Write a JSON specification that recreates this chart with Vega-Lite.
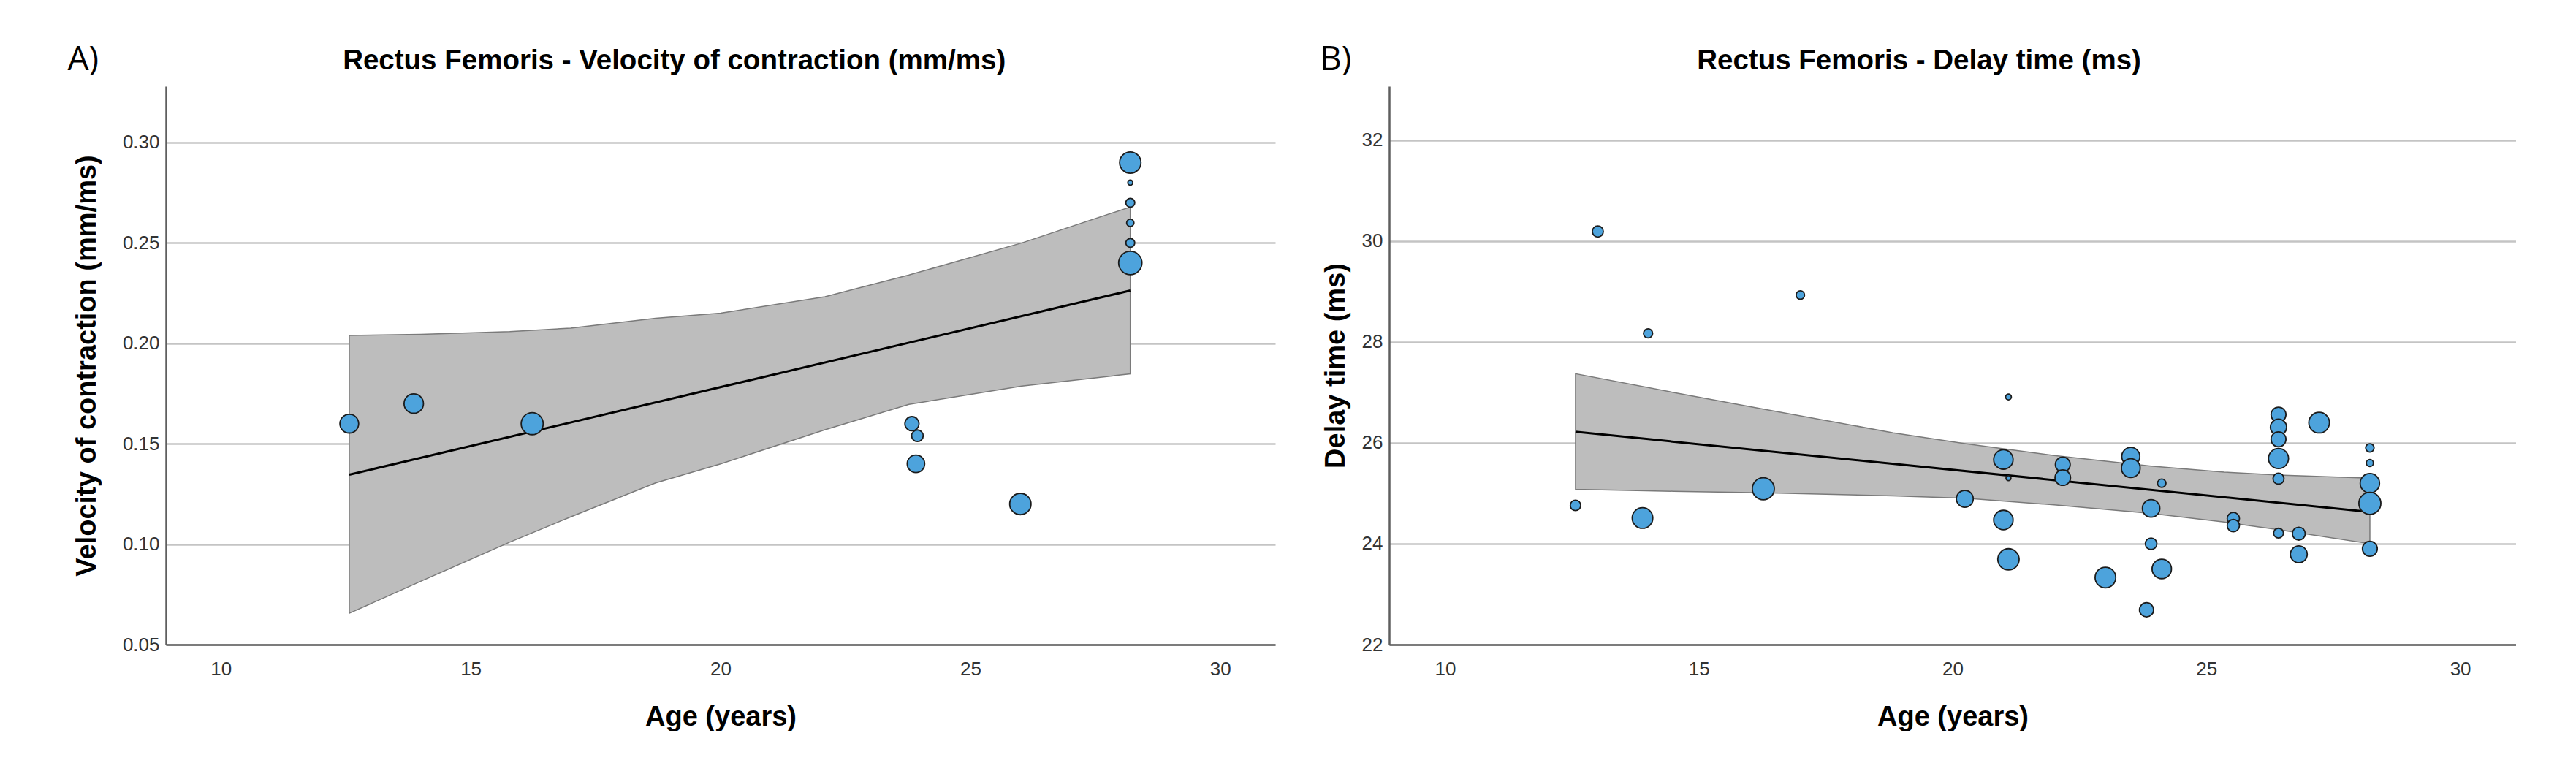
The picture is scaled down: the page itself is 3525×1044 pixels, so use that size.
{
  "$schema": "https://vega.github.io/schema/vega-lite/v6.json",
  "background": "white",
  "padding": {"left": 92, "top": 58, "right": 0, "bottom": 0},
  "spacing": 61,
  "config": {
    "font": "Liberation Sans",
    "view": {"stroke": null},
    "axis": {
      "domainColor": "#5f5f5f",
      "domainWidth": 2.5,
      "ticks": false,
      "gridColor": "#c4c4c4",
      "gridWidth": 2.5,
      "labelFont": "Liberation Sans",
      "labelFontSize": 26,
      "labelColor": "#333333",
      "titleFont": "Liberation Sans",
      "titleFontSize": 38,
      "titleFontWeight": "bold",
      "titleColor": "#000000"
    },
    "axisX": {"grid": false, "labelPadding": 20, "titlePadding": 34},
    "axisY": {"grid": true, "labelPadding": 9, "titlePadding": 16},
    "title": {"font": "Liberation Sans", "fontSize": 38.5, "fontWeight": "bold", "color": "#000000", "anchor": "middle", "frame": "bounds", "offset": 15}
  },
  "hconcat": [
    {
      "title": {"text": "A)", "anchor": "start", "frame": "bounds", "font": "Open Sans", "fontSize": 46, "fontWeight": "normal", "offset": 0, "dy": 42, "dx": -8},
      "vconcat": [
        {
          "width": 1518,
          "height": 764,
          "title": "Rectus Femoris - Velocity of contraction (mm/ms)",
          "encoding": {
            "x": {"field": "age", "type": "quantitative", "scale": {"domain": [8.9, 31.1], "nice": false, "zero": false}, "axis": {"values": [10, 15, 20, 25, 30], "title": "Age (years)"}},
            "y": {"field": "v", "type": "quantitative", "scale": {"domain": [0.05, 0.328], "nice": false, "zero": false}, "axis": {"values": [0.05, 0.1, 0.15, 0.2, 0.25, 0.3], "format": ".2f", "title": "Velocity of contraction (mm/ms)", "titlePadding": 29}}
          },
          "layer": [
            {
              "data": {"values": [
                {"age": 12.57, "lo": 0.0656, "hi": 0.2039},
                {"age": 14.0, "lo": 0.0815, "hi": 0.2045},
                {"age": 15.78, "lo": 0.101, "hi": 0.2058},
                {"age": 17.0, "lo": 0.1136, "hi": 0.2076},
                {"age": 18.7, "lo": 0.1305, "hi": 0.2125},
                {"age": 20.0, "lo": 0.1400, "hi": 0.2150},
                {"age": 22.09, "lo": 0.157, "hi": 0.2232},
                {"age": 23.77, "lo": 0.1696, "hi": 0.234},
                {"age": 26.03, "lo": 0.1787, "hi": 0.25},
                {"age": 28.2, "lo": 0.1848, "hi": 0.2679}
              ]},
              "mark": {"type": "area", "fill": "#bdbdbd", "stroke": "#7a7a7a", "strokeWidth": 1.5},
              "encoding": {
                "y": {"field": "lo", "type": "quantitative", "scale": {"domain": [0.05, 0.328], "nice": false, "zero": false}, "axis": {"values": [0.05, 0.1, 0.15, 0.2, 0.25, 0.3], "format": ".2f", "title": "Velocity of contraction (mm/ms)", "titlePadding": 29}},
                "y2": {"field": "hi"}
              }
            },
            {
              "data": {"values": [
                {"age": 12.57, "v": 0.1346},
                {"age": 28.2, "v": 0.2263}
              ]},
              "mark": {"type": "line", "color": "#000000", "strokeWidth": 3}
            },
            {
              "data": {"values": [
                {"age": 12.57, "v": 0.160, "w": 8.4},
                {"age": 13.86, "v": 0.170, "w": 9.0},
                {"age": 16.23, "v": 0.160, "w": 11.6},
                {"age": 23.83, "v": 0.160, "w": 4.8},
                {"age": 23.94, "v": 0.154, "w": 3.2},
                {"age": 23.91, "v": 0.140, "w": 7.3},
                {"age": 26.0, "v": 0.120, "w": 10.9},
                {"age": 28.2, "v": 0.290, "w": 10.9},
                {"age": 28.2, "v": 0.280, "w": 0.6},
                {"age": 28.2, "v": 0.270, "w": 1.9},
                {"age": 28.2, "v": 0.260, "w": 1.3},
                {"age": 28.2, "v": 0.250, "w": 1.9},
                {"age": 28.2, "v": 0.240, "w": 13.0}
              ]},
              "mark": {"type": "point", "shape": "circle", "filled": true, "fill": "#4da3dc", "stroke": "#1b1b1b", "strokeWidth": 1.8, "opacity": 1},
              "encoding": {
                "size": {"field": "w", "type": "quantitative", "scale": {"domain": [0, 13], "range": [0, 1018]}, "legend": null}
              }
            }
          ]
        }
      ]
    },
    {
      "title": {"text": "B)", "anchor": "start", "frame": "bounds", "font": "Open Sans", "fontSize": 46, "fontWeight": "normal", "offset": 0, "dy": 42, "dx": -3},
      "vconcat": [
        {
          "width": 1542,
          "height": 764,
          "title": "Rectus Femoris - Delay time (ms)",
          "encoding": {
            "x": {"field": "age", "type": "quantitative", "scale": {"domain": [8.9, 31.1], "nice": false, "zero": false}, "axis": {"values": [10, 15, 20, 25, 30], "title": "Age (years)"}},
            "y": {"field": "v", "type": "quantitative", "scale": {"domain": [22, 33.07], "nice": false, "zero": false}, "axis": {"values": [22, 24, 26, 28, 30, 32], "format": "d", "title": "Delay time (ms)"}}
          },
          "layer": [
            {
              "data": {"values": [
                {"age": 12.57, "lo": 25.08, "hi": 27.37},
                {"age": 14.5, "lo": 25.04, "hi": 27.0},
                {"age": 16.27, "lo": 25.01, "hi": 26.67},
                {"age": 18.83, "lo": 24.95, "hi": 26.2},
                {"age": 20.27, "lo": 24.9, "hi": 25.98},
                {"age": 22.0, "lo": 24.77, "hi": 25.75},
                {"age": 23.91, "lo": 24.6, "hi": 25.54},
                {"age": 25.35, "lo": 24.43, "hi": 25.42},
                {"age": 26.42, "lo": 24.28, "hi": 25.36},
                {"age": 28.22, "lo": 24.0, "hi": 25.3}
              ]},
              "mark": {"type": "area", "fill": "#bdbdbd", "stroke": "#7a7a7a", "strokeWidth": 1.5},
              "encoding": {
                "y": {"field": "lo", "type": "quantitative", "scale": {"domain": [22, 33.07], "nice": false, "zero": false}, "axis": {"values": [22, 24, 26, 28, 30, 32], "format": "d", "title": "Delay time (ms)"}},
                "y2": {"field": "hi"}
              }
            },
            {
              "data": {"values": [
                {"age": 12.57, "v": 26.22},
                {"age": 28.22, "v": 24.63}
              ]},
              "mark": {"type": "line", "color": "#000000", "strokeWidth": 3}
            },
            {
              "data": {"values": [
                {"age": 13.01, "v": 30.19, "w": 2.9},
                {"age": 14.0, "v": 28.17, "w": 2.0},
                {"age": 17.0, "v": 28.93, "w": 1.7},
                {"age": 12.57, "v": 24.76, "w": 2.6},
                {"age": 13.89, "v": 24.51, "w": 10.2},
                {"age": 16.27, "v": 25.09, "w": 11.6},
                {"age": 20.24, "v": 24.89, "w": 6.8},
                {"age": 21.0, "v": 25.67, "w": 9.0},
                {"age": 21.1, "v": 26.91, "w": 0.8},
                {"age": 21.1, "v": 25.30, "w": 0.6},
                {"age": 21.0, "v": 24.47, "w": 9.0},
                {"age": 21.1, "v": 23.69, "w": 10.9},
                {"age": 22.17, "v": 25.57, "w": 5.3},
                {"age": 22.17, "v": 25.31, "w": 5.8},
                {"age": 23.51, "v": 25.73, "w": 7.8},
                {"age": 23.51, "v": 25.50, "w": 8.4},
                {"age": 24.12, "v": 25.20, "w": 1.7},
                {"age": 23.91, "v": 24.70, "w": 7.3},
                {"age": 23.91, "v": 24.00, "w": 3.2},
                {"age": 24.12, "v": 23.50, "w": 9.0},
                {"age": 23.01, "v": 23.33, "w": 10.2},
                {"age": 23.82, "v": 22.69, "w": 4.8},
                {"age": 25.53, "v": 24.50, "w": 3.6},
                {"age": 25.53, "v": 24.36, "w": 3.6},
                {"age": 26.42, "v": 26.56, "w": 5.3},
                {"age": 26.42, "v": 26.31, "w": 6.3},
                {"age": 26.42, "v": 26.07, "w": 5.3},
                {"age": 26.42, "v": 25.69, "w": 9.6},
                {"age": 26.42, "v": 25.29, "w": 2.9},
                {"age": 26.42, "v": 24.21, "w": 2.3},
                {"age": 27.22, "v": 26.40, "w": 10.2},
                {"age": 26.82, "v": 24.20, "w": 4.0},
                {"age": 26.82, "v": 23.79, "w": 6.8},
                {"age": 28.22, "v": 25.90, "w": 1.7},
                {"age": 28.22, "v": 25.60, "w": 1.2},
                {"age": 28.22, "v": 25.20, "w": 9.0},
                {"age": 28.22, "v": 24.80, "w": 11.6},
                {"age": 28.22, "v": 23.90, "w": 5.3}
              ]},
              "mark": {"type": "point", "shape": "circle", "filled": true, "fill": "#4da3dc", "stroke": "#1b1b1b", "strokeWidth": 1.8, "opacity": 1},
              "encoding": {
                "size": {"field": "w", "type": "quantitative", "scale": {"domain": [0, 13], "range": [0, 1018]}, "legend": null}
              }
            }
          ]
        }
      ]
    }
  ],
  "resolve": {"scale": {"size": "shared"}}
}
